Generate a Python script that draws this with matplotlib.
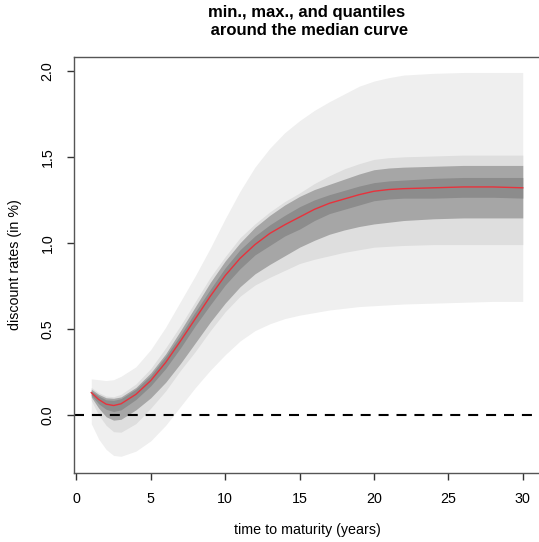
import matplotlib
matplotlib.use("Agg")
import matplotlib.pyplot as plt
import numpy as np

plt.rcParams['font.family'] = ['Liberation Sans', 'DejaVu Sans']

# maturities (years)
maturity = [1, 1.5, 2, 2.5, 3, 4, 5, 6, 7, 8, 9, 10, 11, 12, 13, 14, 15,
            16, 17, 18, 19, 20, 21, 22, 24, 26, 28, 30]

# discount rates in %
rate_min = [-0.05, -0.14, -0.20, -0.235, -0.24, -0.21, -0.15, -0.06, 0.05, 0.16,
            0.26, 0.35, 0.43, 0.49, 0.53, 0.56, 0.58, 0.595, 0.61, 0.62, 0.63,
            0.635, 0.64, 0.645, 0.65, 0.655, 0.66, 0.66]
rate_max = [0.21, 0.205, 0.20, 0.205, 0.225, 0.28, 0.38, 0.51, 0.66, 0.81, 0.97,
            1.14, 1.30, 1.44, 1.55, 1.64, 1.71, 1.77, 1.82, 1.865, 1.91, 1.94,
            1.96, 1.975, 1.985, 1.99, 1.99, 1.99]
q_low_outer = [0.085, 0.0, -0.06, -0.097, -0.10, -0.05, 0.04, 0.14, 0.26, 0.37,
               0.49, 0.60, 0.69, 0.755, 0.80, 0.84, 0.88, 0.905, 0.925, 0.945,
               0.96, 0.975, 0.98, 0.985, 0.99, 0.99, 0.99, 0.99]
q_high_outer = [0.16, 0.13, 0.11, 0.106, 0.12, 0.18, 0.27, 0.39, 0.52, 0.66,
                0.80, 0.92, 1.03, 1.11, 1.18, 1.24, 1.29, 1.345, 1.39, 1.43,
                1.46, 1.485, 1.495, 1.50, 1.505, 1.51, 1.51, 1.51]
q_low_mid = [0.105, 0.04, -0.01, -0.03, -0.025, 0.03, 0.10, 0.19, 0.30, 0.42,
             0.54, 0.65, 0.745, 0.82, 0.875, 0.925, 0.975, 1.015, 1.05, 1.075,
             1.095, 1.11, 1.12, 1.13, 1.14, 1.145, 1.145, 1.145]
q_high_mid = [0.15, 0.12, 0.10, 0.097, 0.105, 0.16, 0.245, 0.355, 0.49, 0.63,
              0.77, 0.895, 1.0, 1.09, 1.16, 1.22, 1.27, 1.31, 1.34, 1.37,
              1.40, 1.425, 1.435, 1.44, 1.445, 1.45, 1.45, 1.45]
q_low_inner = [0.115, 0.065, 0.033, 0.02, 0.03, 0.09, 0.17, 0.27, 0.39, 0.52,
               0.64, 0.755, 0.85, 0.93, 0.985, 1.04, 1.08, 1.13, 1.17, 1.195,
               1.22, 1.245, 1.255, 1.26, 1.26, 1.265, 1.265, 1.26]
q_high_inner = [0.14, 0.11, 0.088, 0.085, 0.095, 0.15, 0.23, 0.34, 0.465, 0.60,
                0.73, 0.855, 0.96, 1.04, 1.105, 1.16, 1.21, 1.25, 1.28, 1.305,
                1.33, 1.35, 1.36, 1.365, 1.375, 1.38, 1.38, 1.38]
median = [0.13, 0.09, 0.063, 0.055, 0.065, 0.12, 0.20, 0.305, 0.43, 0.56, 0.69,
          0.81, 0.91, 0.99, 1.055, 1.105, 1.15, 1.195, 1.23, 1.255, 1.28, 1.30,
          1.31, 1.315, 1.32, 1.325, 1.325, 1.32]

fig = plt.figure(figsize=(5.39, 5.42), dpi=100)
ax = fig.add_axes([74 / 539, 69 / 542, 466 / 539, 416 / 542])

ax.fill_between(maturity, rate_min, rate_max, color="#efefef", lw=0)
ax.fill_between(maturity, q_low_outer, q_high_outer, color="#dedede", lw=0)
ax.fill_between(maturity, q_low_mid, q_high_mid, color="#a6a6a6", lw=0)
ax.fill_between(maturity, q_low_inner, q_high_inner, color="#8c8c8c", lw=0)
ax.plot(maturity, median, color="#e8323c", lw=1)
ax.axhline(0, color="black", lw=1.5, dashes=(4.8, 3.8))

ax.set_xlim(-0.16, 31.16)
ax.set_ylim(-0.337, 2.08)
ax.set_xticks([0, 5, 10, 15, 20, 25, 30])
ax.set_yticks([0.0, 0.5, 1.0, 1.5, 2.0])
ax.set_yticklabels(["0.0", "0.5", "1.0", "1.5", "2.0"], rotation=90, va="center")
ax.tick_params(direction="out", length=5, width=1, labelsize=10.3, color="#333333")
ax.tick_params(axis="x", pad=9)
ax.tick_params(axis="y", pad=9)
for s in ax.spines.values():
    s.set_color("#555555")
    s.set_linewidth(1)

ax.set_xlabel("time to maturity (years)", fontsize=10.3, labelpad=12)
ax.set_ylabel("discount rates (in %)", fontsize=10.3, labelpad=13)
ax.set_title("min., max., and quantiles\n around the median curve",
             fontsize=12, fontweight="bold", pad=16, x=(307 - 74) / 466,
             linespacing=1.25)

fig.savefig("out.png", dpi=100)
